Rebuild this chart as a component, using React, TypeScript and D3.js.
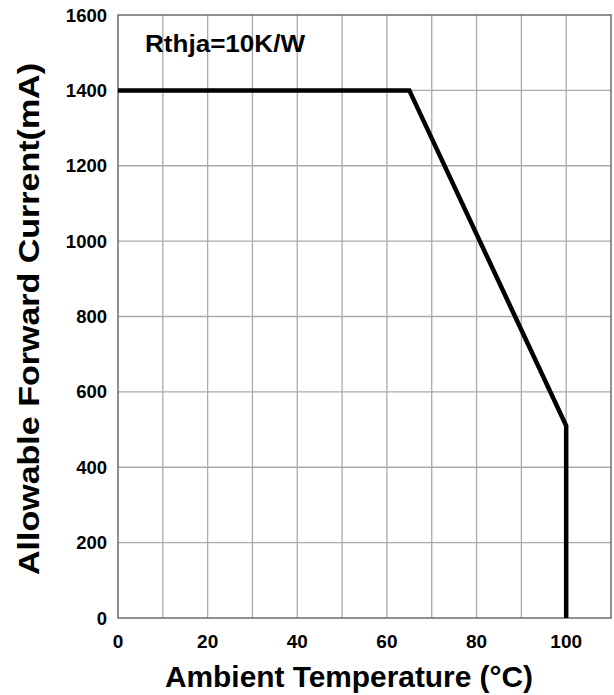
import React from "react";
import * as d3 from "d3";

const temps = [0, 65, 100, 100];
const currents = [1400, 1400, 510, 0];
const xTicks = [0, 20, 40, 60, 80, 100];
const yTicks = [0, 200, 400, 600, 800, 1000, 1200, 1400, 1600];
const xGrid = [10, 20, 30, 40, 50, 60, 70, 80, 90, 100];
const yGrid = [200, 400, 600, 800, 1000, 1200, 1400];
const annotation = "Rthja=10K/W";
const xTitle = "Ambient Temperature (°C)";
const yTitle = "Allowable Forward Current(mA)";

export default function App() {
  const W = 614, H = 695;
  const L = 118, R = 611, T = 15, B = 618;
  const x = d3.scaleLinear().domain([0, 110]).range([L, R]);
  const y = d3.scaleLinear().domain([0, 1600]).range([B, T]);
  const line = d3.line<number>().x((_, i) => x(temps[i])).y((d) => y(d));
  const font = "'Liberation Sans', Arial, sans-serif";
  return (
    <svg width={W} height={H} style={{ position: "absolute", left: 0, top: 0 }} fontFamily={font} fontWeight="bold">
      <rect x={0} y={0} width={W} height={H} fill="#fff" />
      {xGrid.map((v) => (
        <line key={"gx" + v} x1={x(v)} x2={x(v)} y1={T} y2={B} stroke="#aaa" strokeWidth={1.3} />
      ))}
      {yGrid.map((v) => (
        <line key={"gy" + v} x1={L} x2={R} y1={y(v)} y2={y(v)} stroke="#aaa" strokeWidth={1.3} />
      ))}
      <rect x={L} y={T} width={R - L} height={B - T} fill="none" stroke="#555" strokeWidth={1.3} />
      <path d={line(currents) || ""} fill="none" stroke="#000" strokeWidth={4.5} strokeLinejoin="miter" />
      {xTicks.map((v) => (
        <text key={"xt" + v} x={x(v)} y={648} textAnchor="middle" fontSize={19}>{v}</text>
      ))}
      {yTicks.map((v) => (
        <text key={"yt" + v} x={107} y={y(v) + 6.5} textAnchor="end" fontSize={18.5}>{v}</text>
      ))}
      <text x={145} y={52} fontSize={24} textLength={160} lengthAdjust="spacingAndGlyphs">{annotation}</text>
      <text x={349} y={687} textAnchor="middle" fontSize={30} textLength={368} lengthAdjust="spacingAndGlyphs">{xTitle}</text>
      <text transform={`translate(39,319) rotate(-90)`} textAnchor="middle" fontSize={30} textLength={512} lengthAdjust="spacingAndGlyphs">{yTitle}</text>
    </svg>
  );
}
